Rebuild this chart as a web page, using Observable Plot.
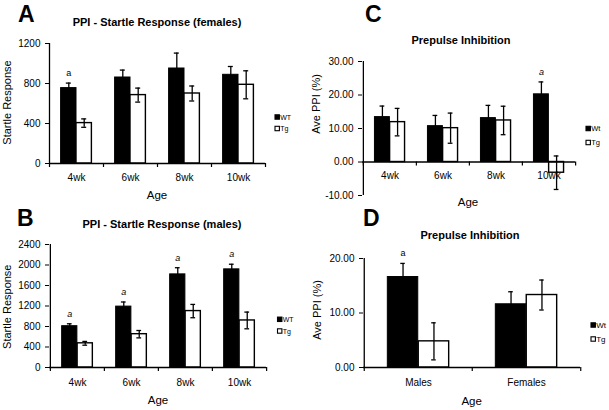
<!DOCTYPE html>
<html><head><meta charset="utf-8">
<script src="https://cdn.jsdelivr.net/npm/d3@7"></script>
<script src="https://cdn.jsdelivr.net/npm/@observablehq/plot@0.6"></script>
<style>
html,body{margin:0;padding:0;background:#fff;}
#fig{position:relative;width:609px;height:410px;overflow:hidden;background:#fff;font-family:"Liberation Sans",Arial,sans-serif;}
#fig > svg{position:absolute;margin:0;}
</style></head><body><div id="fig"></div>
<script>
// ---------- data ----------
const weekAges = ["4wk", "6wk", "8wk", "10wk"];
const sexes = ["Males", "Females"];

// A: startle response, females
const femaleWT = [754, 860, 950, 887];
const femaleWTErr = [50, 74, 154, 83];
const femaleTg = [404, 684, 700, 787];
const femaleTgErr = [42, 70, 75, 140];
const femaleSig = ["a", "", "", ""];
const startleFemaleTicks = [0, 400, 800, 1200];

// B: startle response, males
const maleWT = [806, 1188, 1817, 1915];
const maleWTErr = [47, 90, 130, 100];
const maleTg = [472, 650, 1101, 918];
const maleTgErr = [37, 72, 130, 163];
const maleSig = ["a", "a", "a", "a"];
const startleMaleTicks = [0, 400, 800, 1200, 1600, 2000, 2400];

// C: prepulse inhibition by age
const ppiAgeWT = [13.4, 10.7, 13.1, 20.2];
const ppiAgeWTErr = [3.3, 3.2, 3.8, 3.7];
const ppiAgeTg = [11.9, 10.1, 12.4, -3.2];
const ppiAgeTgErr = [4.1, 4.5, 4.25, 5.0];
const ppiAgeSig = ["", "", "", "a"];
const ppiAgeTicks = [-10, 0, 10, 20, 30];

// D: prepulse inhibition by sex
const ppiSexWT = [16.6, 11.6];
const ppiSexWTErr = [2.5, 2.3];
const ppiSexTg = [4.8, 13.3];
const ppiSexTgErr = [3.4, 2.75];
const ppiSexSig = ["a", ""];
const ppiSexTicks = [0, 10, 20];

const FONT = '"Liberation Sans", Arial, sans-serif';
const fig = document.getElementById("fig");

function panel(p) {
  const {cats, wt, wtErr, tg, tgErr, sig, yDomain, yTicks, yFmt, left, top, width, height,
         ml, mr, mt, mb, sigItalic, labelDy} = p;
  const bw = (width - ml - mr) / cats.length;
  const wtC = 0.3575, tgC = 0.6425, cap = 2.5;
  const wtRows = cats.map((c, i) => ({cat: c, value: wt[i], err: wtErr[i], sig: sig[i]}));
  const tgRows = cats.map((c, i) => ({cat: c, value: tg[i], err: tgErr[i]}));
  const err = (rows, c) => [
    Plot.ruleX(rows, {x: "cat", y1: d => d.value - d.err, y2: d => d.value + d.err,
      dx: (c - 0.5) * bw, stroke: "#000", strokeWidth: 1.3}),
    Plot.tickY(rows, {x: "cat", y: d => d.value + d.err, insetLeft: c * bw - cap,
      insetRight: (1 - c) * bw - cap, stroke: "#000", strokeWidth: 1.3}),
    Plot.tickY(rows, {x: "cat", y: d => d.value - d.err, insetLeft: c * bw - cap,
      insetRight: (1 - c) * bw - cap, stroke: "#000", strokeWidth: 1.3})
  ];
  const chart = Plot.plot({
    width, height, marginLeft: ml, marginRight: mr, marginTop: mt, marginBottom: mb,
    style: {fontFamily: FONT, fontSize: "10px", color: "#000", background: "transparent", overflow: "visible"},
    x: {type: "band", domain: cats, padding: 0, axis: null},
    y: {domain: yDomain, ticks: yTicks, tickFormat: yFmt, tickSize: 4, tickPadding: 5, label: null},
    marks: [
      Plot.barY(wtRows, {x: "cat", y1: () => 0, y2: "value", fill: "#000", stroke: "#000",
        strokeWidth: 1, insetLeft: 0.215 * bw, insetRight: 0.5 * bw}),
      Plot.barY(tgRows, {x: "cat", y1: () => 0, y2: "value", fill: "#fff", stroke: "#000",
        strokeWidth: 1.4, insetLeft: 0.5 * bw, insetRight: 0.215 * bw}),
      ...err(wtRows, wtC),
      ...err(tgRows, tgC),
      Plot.ruleY([0], {stroke: "#000", strokeWidth: 1.3}),
      Plot.ruleX([cats[0]], {x: d => d, dx: -bw / 2, stroke: "#000", strokeWidth: 1.3}),
      Plot.ruleX(cats, {x: d => d, y1: () => 0, y2: () => 0, dx: -bw / 2, insetBottom: -4, stroke: "#000", strokeWidth: 1.2}),
      Plot.ruleX([cats[cats.length - 1]], {x: d => d, y1: () => 0, y2: () => 0, dx: bw / 2, insetBottom: -4, stroke: "#000", strokeWidth: 1.2}),
      Plot.text(cats, {x: d => d, y: () => 0, text: d => d, dy: labelDy, fontSize: 10, fill: "#000"}),
      Plot.text(wtRows.filter(d => d.sig), {x: "cat", y: d => d.value + d.err, text: "sig",
        dx: (wtC - 0.5) * bw, dy: -10, fontSize: 9, fontStyle: sigItalic ? "italic" : "normal", fill: "#000"})
    ]
  });
  chart.style.left = left + "px";
  chart.style.top = top + "px";
  fig.appendChild(chart);
}

panel({cats: weekAges, wt: femaleWT, wtErr: femaleWTErr, tg: femaleTg, tgErr: femaleTgErr, sig: femaleSig,
  yDomain: [0, 1200], yTicks: startleFemaleTicks, yFmt: d => String(d),
  left: 0, top: 0, width: 300, height: 205, ml: 49, mr: 35, mt: 43, mb: 42, sigItalic: false, labelDy: 14});
panel({cats: weekAges, wt: maleWT, wtErr: maleWTErr, tg: maleTg, tgErr: maleTgErr, sig: maleSig,
  yDomain: [0, 2400], yTicks: startleMaleTicks, yFmt: d => String(d),
  left: 0, top: 205, width: 300, height: 205, ml: 49, mr: 34, mt: 39, mb: 43, sigItalic: true, labelDy: 15});
panel({cats: weekAges, wt: ppiAgeWT, wtErr: ppiAgeWTErr, tg: ppiAgeTg, tgErr: ppiAgeTgErr, sig: ppiAgeSig,
  yDomain: [-10, 30], yTicks: ppiAgeTicks, yFmt: d => d.toFixed(2),
  left: 300, top: 0, width: 309, height: 205, ml: 62, mr: 34, mt: 61, mb: 10, sigItalic: true, labelDy: 14});
panel({cats: sexes, wt: ppiSexWT, wtErr: ppiSexWTErr, tg: ppiSexTg, tgErr: ppiSexTgErr, sig: ppiSexSig,
  yDomain: [0, 20], yTicks: ppiSexTicks, yFmt: d => d.toFixed(2),
  left: 300, top: 205, width: 309, height: 205, ml: 63, mr: 29, mt: 53, mb: 43, sigItalic: false, labelDy: 15});

// ---------- overlay text: letters, titles, axis titles, legends ----------
const ov = d3.select(fig).append("svg")
  .attr("width", 609).attr("height", 410)
  .style("left", "0px").style("top", "0px").style("pointer-events", "none")
  .style("font-family", FONT);

const letters = [["A", 18, 22], ["B", 17, 226], ["C", 365, 22], ["D", 363, 226]];
letters.forEach(([t, x, y]) => ov.append("text").attr("x", x).attr("y", y)
  .attr("font-size", 23).attr("font-weight", "bold").text(t));

const titles = [["PPI - Startle Response (females)", 157, 26], ["PPI - Startle Response (males)", 162, 228],
  ["Prepulse Inhibition", 461, 44], ["Prepulse Inhibition", 470, 239]];
titles.forEach(([t, x, y]) => ov.append("text").attr("x", x).attr("y", y).attr("text-anchor", "middle")
  .attr("font-size", 11).attr("font-weight", "bold").text(t));

const xTitles = [["Age", 157, 199], ["Age", 158, 404], ["Age", 468, 206], ["Age", 471.7, 404.5]];
xTitles.forEach(([t, x, y]) => ov.append("text").attr("x", x).attr("y", y).attr("text-anchor", "middle")
  .attr("font-size", 11.5).text(t));

const yTitles = [["Startle Response", 11.3, 102.5], ["Startle Response", 11.3, 306.7],
  ["Ave PPI (%)", 319.7, 104], ["Ave PPI (%)", 321.3, 310]];
yTitles.forEach(([t, x, y]) => ov.append("text").attr("transform", `translate(${x},${y}) rotate(-90)`)
  .attr("text-anchor", "middle").attr("font-size", 11).text(t));

const legends = [
  {x: 275, ys: [117, 128.5], labels: ["WT", "Tg"], fs: 7},
  {x: 277.5, ys: [319.3, 331], labels: ["WT", "Tg"], fs: 7},
  {x: 586, ys: [128.5, 142.5], labels: ["Wt", "Tg"], fs: 7.5},
  {x: 591, ys: [325, 339], labels: ["Wt", "Tg"], fs: 8}
];
legends.forEach(L => {
  L.labels.forEach((lab, i) => {
    ov.append("rect").attr("x", L.x).attr("y", L.ys[i] - 2.2).attr("width", 4.4).attr("height", 4.4)
      .attr("fill", i === 0 ? "#000" : "#fff").attr("stroke", "#000").attr("stroke-width", 1.1);
    ov.append("text").attr("x", L.x + 5.2).attr("y", L.ys[i] + L.fs * 0.36).attr("font-size", L.fs).text(lab);
  });
});
</script></body></html>
